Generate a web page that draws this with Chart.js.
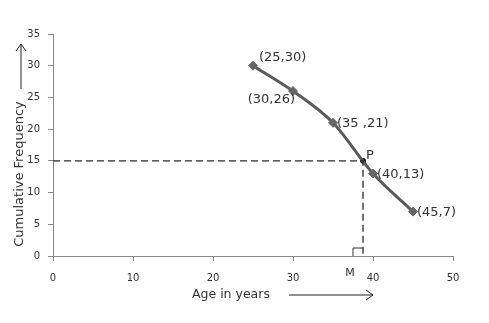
<!DOCTYPE html>
<html>
<head>
<meta charset="utf-8">
<script src="https://cdn.jsdelivr.net/npm/chart.js@4/dist/chart.umd.min.js"></script>
<style>
  html, body { margin: 0; padding: 0; background: #fff; }
  #wrap { width: 489px; height: 323px; }
</style>
</head>
<body>
<div id="wrap"><canvas id="ogive"></canvas></div>
<script>
// Data
var ages = [25, 30, 35, 40, 45];
var cumFreq = [30, 26, 21, 13, 7];
var pointLabels = ["(25,30)", "(30,26)", "(35 ,21)", "(40,13)", "(45,7)"];
var labelSide = ["upright", "downleft", "right", "right", "right"];

// The median point P and its foot M
var medianAge = 38.75;
var halfN = 15;

var xTicks = [0, 10, 20, 30, 40, 50];
var yTicks = [0, 5, 10, 15, 20, 25, 30, 35];

var FONT = "'DejaVu Sans', Verdana, sans-serif";
var TEXT = "#333333";

// draw the point labels, the titles with their arrows, and the right-angle mark
var extrasPlugin = {
    id: "extras",
    afterDatasetsDraw: function(chart) {
        var c = chart.ctx;
        var xs = chart.scales.x, ys = chart.scales.y;
        c.save();
        c.fillStyle = TEXT;
        c.font = "13px " + FONT;
        c.textBaseline = "middle";

        for (var i = 0; i < ages.length; i++) {
            var px = xs.getPixelForValue(ages[i]);
            var py = ys.getPixelForValue(cumFreq[i]);
            if (labelSide[i] == "upright") {
                c.textAlign = "left";
                c.fillText(pointLabels[i], px + 6, py - 8);
            } else if (labelSide[i] == "downleft") {
                c.textAlign = "right";
                c.fillText(pointLabels[i], px + 2, py + 9);
            } else {
                c.textAlign = "left";
                c.fillText(pointLabels[i], px + 4, py + 1);
            }
        }

        // P and M
        var pX = xs.getPixelForValue(medianAge);
        var pY = ys.getPixelForValue(halfN);
        c.textAlign = "left";
        c.fillText("P", pX + 3, pY - 5);
        c.font = "11px " + FONT;
        c.textAlign = "center";
        c.fillText("M", pX - 13, ys.bottom + 17);

        // right angle mark at M
        var base = ys.bottom;
        c.strokeStyle = "#333";
        c.lineWidth = 1;
        c.setLineDash([]);
        c.beginPath();
        c.moveTo(pX - 10, base);
        c.lineTo(pX - 10, base - 8);
        c.lineTo(pX, base - 8);
        c.stroke();

        // y axis title with arrow
        c.font = "13px " + FONT;
        c.fillStyle = TEXT;
        c.save();
        c.translate(20, 174);
        c.rotate(-Math.PI / 2);
        c.textAlign = "center";
        c.fillText("Cumulative Frequency", 0, 0);
        c.restore();
        c.strokeStyle = "#222";
        c.lineWidth = 1;
        c.beginPath();
        c.moveTo(21, 89);
        c.lineTo(21, 44);
        c.moveTo(16, 51);
        c.lineTo(21, 44);
        c.lineTo(26, 51);
        c.stroke();

        // x axis title with arrow
        c.font = "12.5px " + FONT;
        c.textAlign = "left";
        c.fillText("Age in years", 192, 295);
        c.beginPath();
        c.moveTo(289, 295);
        c.lineTo(373, 295);
        c.moveTo(366, 290);
        c.lineTo(373, 295);
        c.lineTo(366, 300);
        c.stroke();
        c.restore();
    }
};

var ogivePoints = ages.map(function(a, i) { return { x: a, y: cumFreq[i] }; });

new Chart(document.getElementById("ogive"), {
    type: "scatter",
    data: {
        datasets: [
            {
                // dashed guide lines from 15 on the y axis to P and down to M
                data: [{ x: 0, y: halfN }, { x: medianAge, y: halfN }, { x: medianAge, y: 0 }],
                showLine: true,
                borderColor: "#2a2a2a",
                borderWidth: 1.3,
                borderDash: [7, 4],
                pointRadius: 0,
                tension: 0
            },
            {
                data: ogivePoints,
                showLine: true,
                borderColor: "#5a5a5a",
                borderWidth: 3,
                cubicInterpolationMode: "monotone",
                pointStyle: "rectRot",
                pointRadius: 4.5,
                pointBackgroundColor: "#666666",
                pointBorderColor: "#666666",
                pointBorderWidth: 1
            },
            {
                // point P
                data: [{ x: medianAge, y: halfN }],
                pointRadius: 2.5,
                pointBackgroundColor: "#000",
                pointBorderColor: "#000"
            }
        ]
    },
    options: {
        responsive: true,
        maintainAspectRatio: false,
        animation: false,
        layout: { padding: { left: 0, top: 34, right: 36, bottom: 0 } },
        plugins: { legend: { display: false }, tooltip: { enabled: false } },
        scales: {
            x: {
                type: "linear",
                min: 0,
                max: 50,
                afterBuildTicks: function(s) { s.ticks = xTicks.map(function(v) { return { value: v }; }); },
                afterFit: function(s) { s.height = 67; },
                grid: { drawOnChartArea: false, drawTicks: true, tickLength: 5, color: "#888" },
                border: { display: true, color: "#888", width: 1 },
                ticks: { color: TEXT, font: { family: FONT, size: 10 }, padding: 11, maxRotation: 0 }
            },
            y: {
                type: "linear",
                min: 0,
                max: 35,
                afterBuildTicks: function(s) { s.ticks = yTicks.map(function(v) { return { value: v }; }); },
                afterFit: function(s) { s.width = 53; },
                grid: { drawOnChartArea: false, drawTicks: true, tickLength: 5, color: "#888" },
                border: { display: true, color: "#888", width: 1 },
                ticks: { color: TEXT, font: { family: FONT, size: 10 }, padding: 8 }
            }
        }
    },
    plugins: [extrasPlugin]
});
</script>
</body>
</html>
